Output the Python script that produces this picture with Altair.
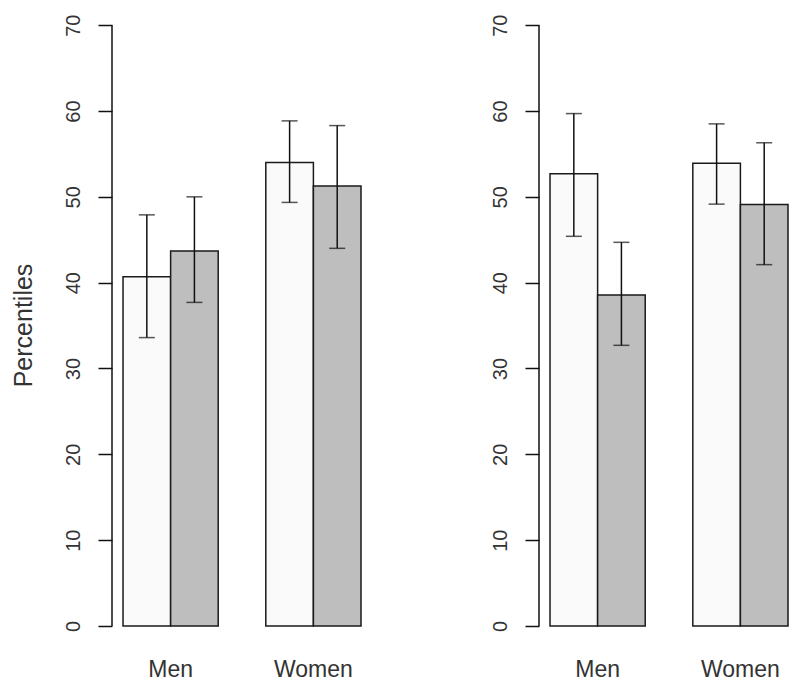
import altair as alt
import pandas as pd

groups = ["Men", "Men", "Women", "Women"]
series = ["first", "second", "first", "second"]

left_means = [40.7, 43.7, 54.0, 51.25]
left_lo = [33.6, 37.7, 49.35, 44.0]
left_hi = [47.9, 50.0, 58.85, 58.3]

right_means = [52.7, 38.55, 53.9, 49.1]
right_lo = [45.4, 32.7, 49.15, 42.1]
right_hi = [59.7, 44.7, 58.5, 56.3]

y_ticks = [0, 10, 20, 30, 40, 50, 60, 70]
bar_colors = ["#FAFAFA", "#BEBEBE"]

FONT = "Liberation Sans"
TEXT = "#333333"
W, H = 249, 618


def panel(means, lo, hi, show_title):
    df = pd.DataFrame({"group": groups, "series": series, "mean": means, "lo": lo, "hi": hi})
    axis_df = pd.DataFrame({"a": [y_ticks[0]], "b": [y_ticks[-1]]})

    x = alt.X("group:N", sort=["Men", "Women"],
              scale=alt.Scale(paddingInner=1 / 3, paddingOuter=0.0386, align=1),
              axis=alt.Axis(title=None, labelAngle=0, ticks=False, tickSize=0, domain=False,
                            labelFontSize=23, labelFont=FONT, labelColor=TEXT,
                            labelBaseline="alphabetic", labelPadding=50))
    xo = alt.XOffset("series:N", sort=["first", "second"],
                     scale=alt.Scale(paddingInner=0, paddingOuter=0))
    yaxis = alt.Axis(values=y_ticks, grid=False, domain=False, tickSize=14, tickColor="#111111",
                     tickWidth=1.5, labelAngle=-90, labelPadding=15, labelFontSize=20,
                     labelFont=FONT, labelColor=TEXT,
                     title="Percentiles" if show_title else None,
                     titleFont=FONT, titleFontSize=25, titleFontWeight="normal", titleColor=TEXT,
                     titleAngle=-90, titleBaseline="middle", titleAlign="center",
                     titleX=-89, titleY=317)
    yscale = alt.Scale(domain=[0, 72], nice=False, zero=False)

    bars = alt.Chart(df).mark_bar(stroke="#1a1a1a", strokeWidth=1.5).encode(
        x=x, xOffset=xo,
        y=alt.Y("mean:Q", scale=yscale, axis=yaxis),
        fill=alt.Fill("series:N", scale=alt.Scale(domain=["first", "second"], range=bar_colors),
                      legend=None),
    )
    err = alt.Chart(df).mark_rule(color="#111111", strokeWidth=1.5).encode(
        x=x, xOffset=xo, y=alt.Y("lo:Q", scale=yscale), y2="hi:Q")
    cap_lo = alt.Chart(df).mark_tick(color="#111111", thickness=1.5, size=16).encode(
        x=x, xOffset=xo, y=alt.Y("lo:Q", scale=yscale))
    cap_hi = alt.Chart(df).mark_tick(color="#111111", thickness=1.5, size=16).encode(
        x=x, xOffset=xo, y=alt.Y("hi:Q", scale=yscale))
    axis_line = alt.Chart(axis_df).mark_rule(color="#111111", strokeWidth=1.5).encode(
        x=alt.value(0), y=alt.Y("a:Q", scale=yscale), y2="b:Q")

    return alt.layer(bars, err, cap_lo, cap_hi, axis_line).properties(width=W, height=H)


chart = alt.hconcat(
    panel(left_means, left_lo, left_hi, True),
    panel(right_means, right_lo, right_hi, False),
    spacing=128,
).properties(
    padding={"left": 3, "top": 0, "right": 0, "bottom": 0},
    background="white",
).configure_view(stroke=None)

chart.save("out.html", embed_options={"renderer": "svg", "actions": False})
